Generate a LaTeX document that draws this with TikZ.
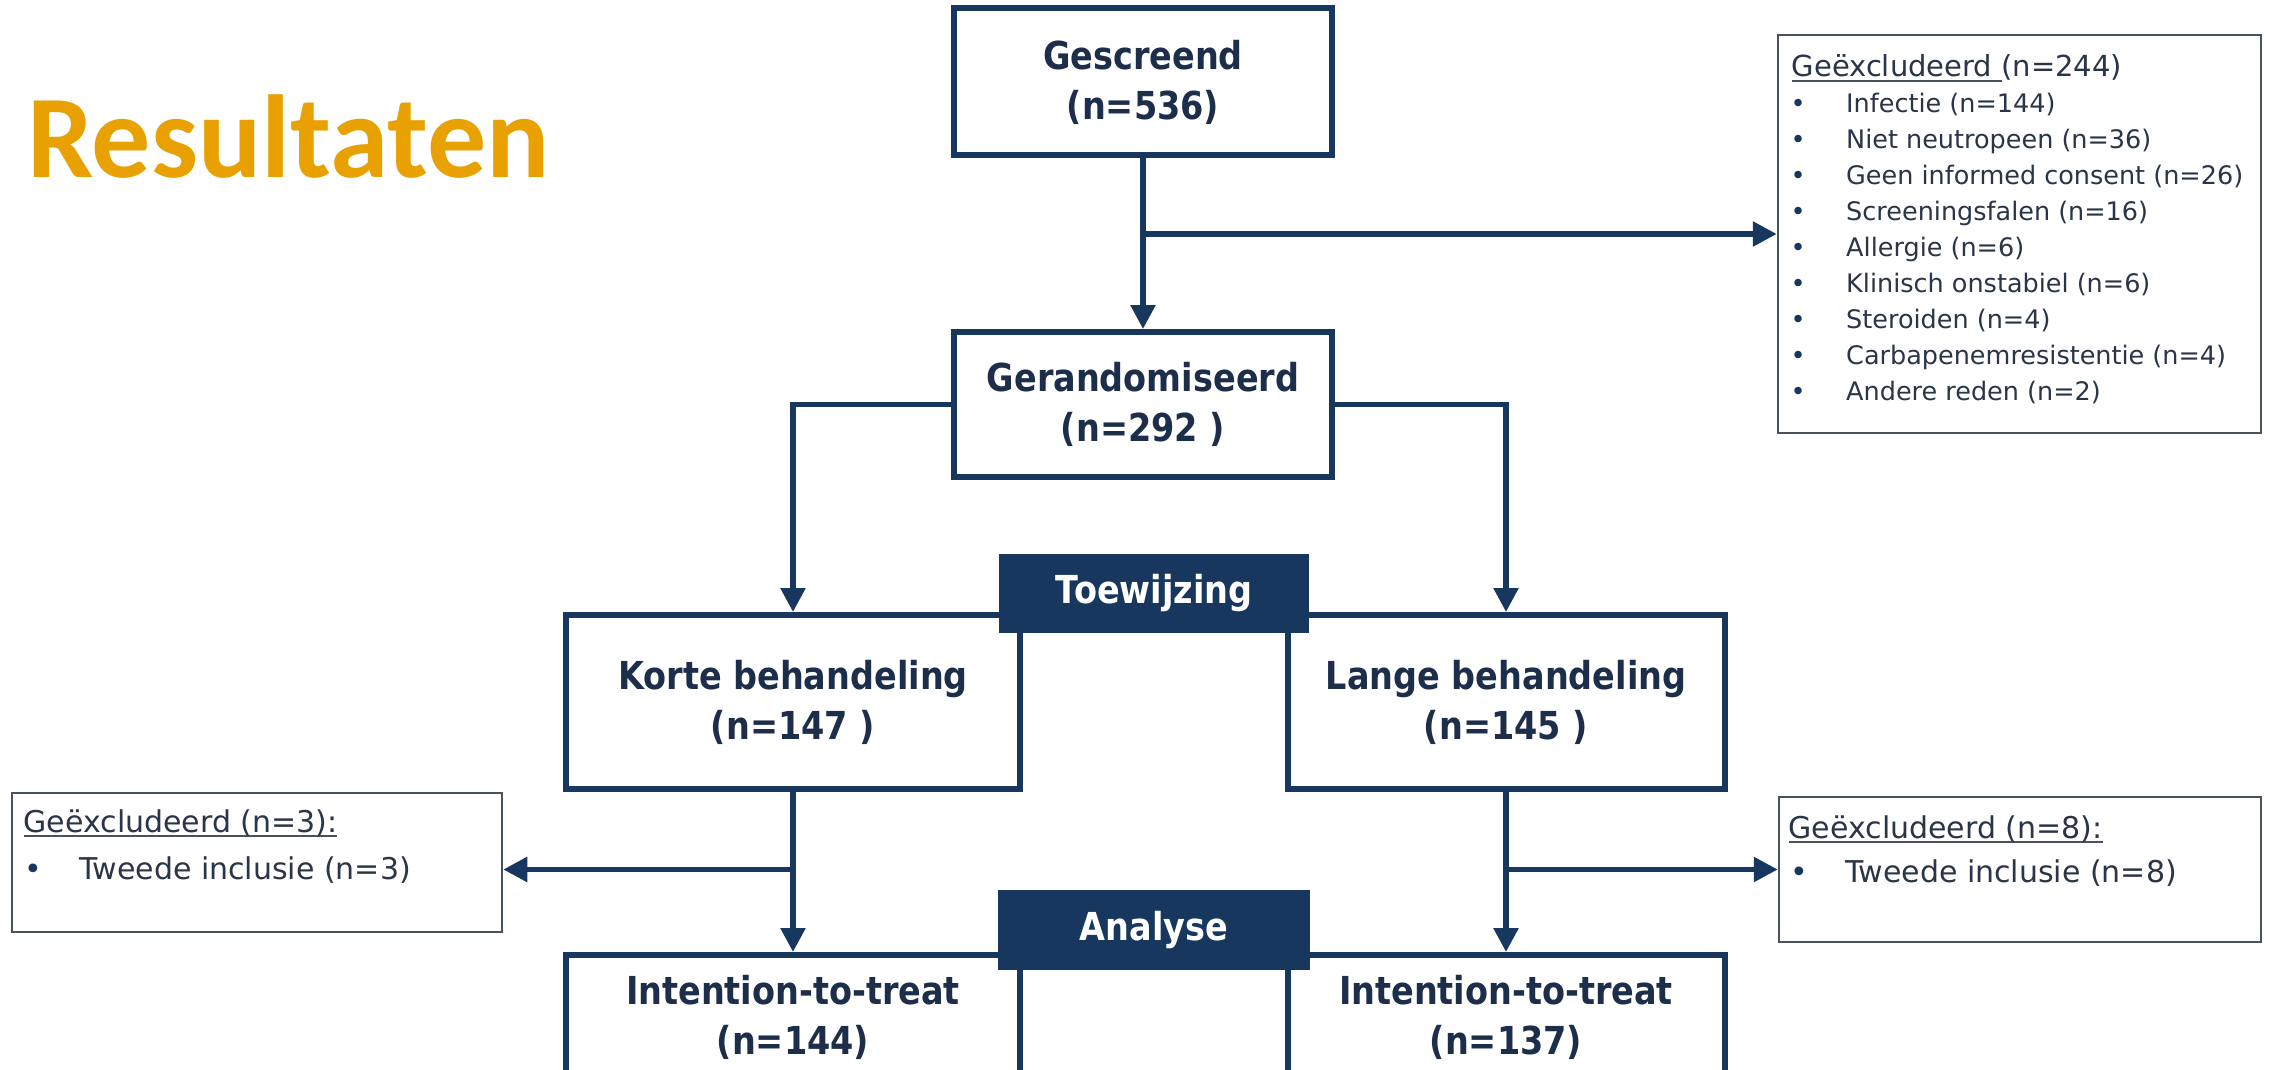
\documentclass[tikz,border=0pt]{standalone}
\usepackage{fontspec}
\usetikzlibrary{arrows.meta}
\newfontfamily\boxfont[FakeStretch=0.87]{DejaVu Sans}
\newfontfamily\listfont{DejaVu Sans}
\newfontfamily\titlefont{Carlito}
\definecolor{navy}{HTML}{17375E}
\definecolor{navytext}{HTML}{1C2E4A}
\definecolor{orng}{HTML}{E8A100}
\definecolor{exclgray}{HTML}{4A525E}
\definecolor{listtext}{HTML}{2A3548}
\newcommand\ulbox[1]{\setbox0\hbox{#1}\rlap{\color{exclgray}\rule[-5pt]{\wd0}{2pt}}\box0}
\begin{document}
\begin{tikzpicture}[x=1pt,y=-1pt,
  box/.style={draw=navy, line width=6pt, fill=white, align=center, inner sep=0pt,
    text=navytext, font=\boxfont\bfseries\fontsize{38.5}{50}\selectfont},
  tag/.style={fill=navy, draw=none, inner sep=0pt, text=white,
    font=\boxfont\bfseries\fontsize{38.5}{50}\selectfont},
  exclbox/.style={draw=exclgray, line width=2.5pt, fill=white},
  lt/.style={anchor=base west, inner sep=0pt, text=listtext},
  conn/.style={draw=navy, line width=5.5pt},
  arr/.style={conn, -{Triangle[length=24pt,width=24pt]}}]
\useasboundingbox (0,0) rectangle (2270,1070);
\clip (0,0) rectangle (2270,1070);
\fill[white] (0,0) rectangle (2270,1070);

% title
\node[anchor=base west, inner sep=0pt, text=orng,
  font=\titlefont\bfseries\fontsize{118}{130}\selectfont] (title) at (27,177) {Resultaten};

% main boxes
\node[box, minimum width=378pt, minimum height=147pt] (gesc) at (1143,82) {Gescreend\\(n=536)};
\node[box, minimum width=378pt, minimum height=145pt] (geran) at (1143,404.5) {Gerandomiseerd\\(n=292 )};
\node[box, minimum width=454pt, minimum height=174pt] (korte) at (793,702) {Korte behandeling\\(n=147 )};
\node[box, minimum width=437pt, minimum height=174pt] (lange) at (1506,702) {Lange behandeling\\(n=145 )};
\node[box, minimum width=454pt, minimum height=124pt, anchor=north] (itt1) at (793,952) {Intention-to-treat\\(n=144)};
\node[box, minimum width=437pt, minimum height=124pt, anchor=north] (itt2) at (1506,952) {Intention-to-treat\\(n=137)};

% exclusion boxes
\node[exclbox, minimum width=483pt, minimum height=398pt] (excl) at (2019.5,234) {};
\node[exclbox, minimum width=490pt, minimum height=139pt] (exclL) at (257,862.5) {};
\node[exclbox, minimum width=482pt, minimum height=145pt] (exclR) at (2020,869.5) {};

% exclusion texts
\node[lt, font=\listfont\fontsize{29}{36}\selectfont] (x0) at (1791.5,77) {\ulbox{Geëxcludeerd }(n=244)};
\foreach \t [count=\i from 0] in {Infectie (n=144), Niet neutropeen (n=36), Geen informed consent (n=26), Screeningsfalen (n=16), Allergie (n=6), Klinisch onstabiel (n=6), Steroiden (n=4), Carbapenemresistentie (n=4), Andere reden (n=2)}
  \node[lt, font=\listfont\fontsize{25.5}{36}\selectfont] (xi\i) at (1790.5,{113+35.9*\i}) {\makebox[55.5pt][l]{\textcolor{navy}{•}}\t};

\node[lt, font=\listfont\fontsize{30}{40}\selectfont] (l0) at (23.5,832) {\ulbox{Geëxcludeerd (n=3):}};
\node[lt, font=\listfont\fontsize{30}{40}\selectfont] (l1) at (24,879) {\makebox[55pt][l]{\textcolor{navy}{•}}Tweede inclusie (n=3)};
\node[lt, font=\listfont\fontsize{30}{40}\selectfont] (r0) at (1788.5,838) {\ulbox{Geëxcludeerd (n=8):}};
\node[lt, font=\listfont\fontsize{30}{40}\selectfont] (r1) at (1790,882) {\makebox[55pt][l]{\textcolor{navy}{•}}Tweede inclusie (n=8)};

% connectors
\draw[arr] (gesc.south) -- (geran.north);
\draw[arr] (gesc.south |- excl.west) -- (excl.west);
\draw[arr] (geran.west) -| (korte.north);
\draw[arr] (geran.east) -| (lange.north);
\draw[arr] (korte.south) -- (itt1.north);
\draw[arr] (lange.south) -- (itt2.north);
\draw[arr] (korte.south |- exclR.west) -- (exclL.east |- exclR.west);
\draw[arr] (lange.south |- exclR.west) -- (exclR.west);

% phase tags
\node[tag, minimum width=310pt, minimum height=79pt] (toew) at (1154,593.5) {Toewijzing};
\node[tag, minimum width=312pt, minimum height=80pt] (anal) at (1154,930) {Analyse};
\end{tikzpicture}
\end{document}
